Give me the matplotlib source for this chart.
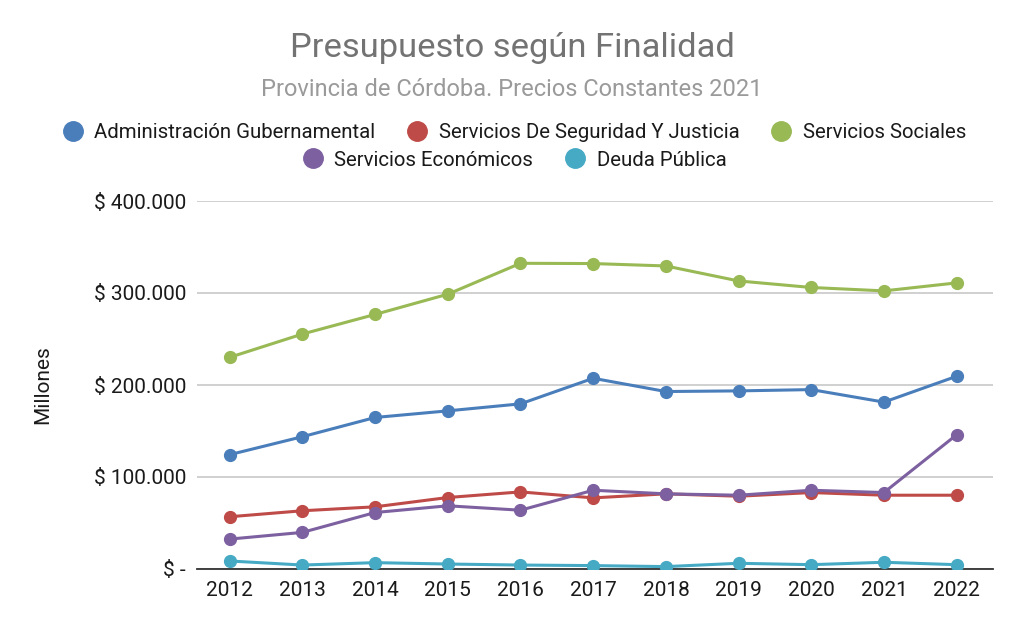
import matplotlib.pyplot as plt
from matplotlib.ticker import FuncFormatter
from matplotlib.lines import Line2D

plt.rcParams['font.family'] = ['Roboto', 'DejaVu Sans']

years = [2012, 2013, 2014, 2015, 2016, 2017, 2018, 2019, 2020, 2021, 2022]

# millones de pesos, precios constantes 2021
administracion = [124300, 143800, 164700, 171900, 179500, 207300, 192900, 193600, 195000, 181400, 209500]
seguridad = [56800, 63300, 67600, 77700, 83800, 77300, 81700, 79100, 83100, 80200, 80200]
sociales = [230100, 255400, 276700, 298700, 332300, 332000, 329400, 313100, 306000, 302300, 311000]
economicos = [32500, 39800, 61400, 68700, 63900, 85600, 81700, 80200, 85600, 83100, 145900]
deuda = [8700, 4300, 6900, 5400, 4300, 3700, 2600, 6200, 4700, 7300, 4700]

series_names = ['Administración Gubernamental', 'Servicios De Seguridad Y Justicia',
                'Servicios Sociales', 'Servicios Económicos', 'Deuda Pública']
series_values = [administracion, seguridad, sociales, economicos, deuda]
colors = ['#4a7ebb', '#be4b48', '#98b954', '#7d60a0', '#46aac5']

y_ticks = [0, 100000, 200000, 300000, 400000]


def peso_fmt(v, pos):
    if v == 0:
        return '$ -'
    return '$ ' + f'{int(v):,}'.replace(',', '.')


fig = plt.figure(figsize=(10.24, 6.33), dpi=100)
ax = fig.add_axes([197 / 1024, 1 - 569 / 633, (993 - 197) / 1024, (569 - 201) / 633])

for name, vals, c in zip(series_names, series_values, colors):
    ax.plot(years, vals, color=c, lw=2.2, marker='o', ms=8.5, label=name, zorder=3)

ax.set_xlim(2011.55, 2022.5)
ax.set_ylim(0, 400000)
ax.set_xticks(years)
ax.set_yticks(y_ticks)
ax.yaxis.set_major_formatter(FuncFormatter(peso_fmt))
ax.grid(axis='y', color='#c8c8c8', lw=1.2)
ax.set_axisbelow(True)
for s in ['top', 'right', 'left']:
    ax.spines[s].set_visible(False)
ax.spines['bottom'].set_color('#333333')
ax.spines['bottom'].set_linewidth(1.3)
ax.tick_params(axis='both', length=0, labelsize=15, colors='#1a1a1a', pad=9)
ax.tick_params(axis='y', pad=8)
ax.set_ylabel('Millones', fontsize=15, color='#1a1a1a', labelpad=30)

fig.text(0.5, 1 - 48 / 633, 'Presupuesto según Finalidad', ha='center', va='center',
         fontsize=24.8, color='#737373')
fig.text(0.5, 1 - 90 / 633, 'Provincia de Córdoba. Precios Constantes 2021', ha='center',
         va='center', fontsize=17, color='#9a9a9a')

handles = [Line2D([], [], ls='none', marker='o', ms=14, color=c) for c in colors]
leg1 = fig.legend(handles[:3], series_names[:3], loc='center', bbox_to_anchor=(0.5, 1 - 133 / 633),
                  ncol=3, frameon=False, fontsize=14.7, handletextpad=0.3, columnspacing=1.3,
                  handlelength=1.5)
leg2 = fig.legend(handles[3:], series_names[3:], loc='center', bbox_to_anchor=(0.5, 1 - 160 / 633),
                  ncol=2, frameon=False, fontsize=14.7, handletextpad=0.3, columnspacing=1.3,
                  handlelength=1.5)
for t in leg1.get_texts() + leg2.get_texts():
    t.set_color('#1a1a1a')

fig.savefig('out.png', dpi=100)
